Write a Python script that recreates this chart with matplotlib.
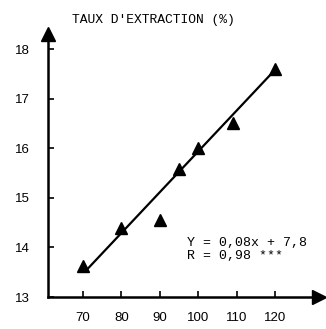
import matplotlib
matplotlib.use("Agg")
import matplotlib.pyplot as plt

# data
x_vals = [70, 80, 90, 95, 100, 109, 120]
y_vals = [13.63, 14.4, 14.55, 15.58, 16.0, 16.5, 17.6]
line_x = [71, 120]
line_y = [13.55, 17.58]
x_ticks = [70, 80, 90, 100, 110, 120]
y_ticks = [13, 14, 15, 16, 17, 18]
title = "TAUX D'EXTRACTION (%)"
eq1 = "Y = 0,08x + 7,8"
eq2 = "R = 0,98 ***"

fig = plt.figure(figsize=(3.26, 3.29), dpi=100)
ax = fig.add_axes([0, 0, 1, 1])
ax.set_xlim(48.4, 133.3)
ax.set_ylim(12.355, 18.99)
ax.patch.set_alpha(0)

for s in ["top", "right"]:
    ax.spines[s].set_visible(False)
ax.spines["left"].set_position(("data", 60.9))
ax.spines["bottom"].set_position(("data", 13))
ax.spines["left"].set_bounds(13, 18.3)
ax.spines["bottom"].set_bounds(60.9, 131.5)
ax.spines["left"].set_linewidth(1.8)
ax.spines["bottom"].set_linewidth(1.8)

ax.set_xticks(x_ticks)
ax.set_yticks(y_ticks)
ax.tick_params(axis="x", direction="in", length=4, width=1.2, pad=11, labelsize=9.5)
ax.tick_params(axis="y", direction="in", length=4, width=1.2, pad=13, labelsize=9.5)
for lab in ax.get_xticklabels() + ax.get_yticklabels():
    lab.set_family("Liberation Sans")

# arrows
ax.plot([60.9], [18.3], marker="^", markersize=10, color="black", clip_on=False)
ax.plot([131.5], [13], marker=">", markersize=10, color="black", clip_on=False)

ax.plot(line_x, line_y, color="black", linewidth=1.6)
ax.plot(x_vals, y_vals, linestyle="none", marker="^", markersize=8, color="black")

fig.text(0.47, 0.938, title, ha="center", va="center", family="Liberation Mono", fontsize=9.4)
ax.text(97.2, 14.09, eq1, ha="left", va="center", family="Liberation Mono", fontsize=9.5)
ax.text(97.2, 13.83, eq2, ha="left", va="center", family="Liberation Mono", fontsize=9.5)

fig.savefig("out.png", dpi=100)
